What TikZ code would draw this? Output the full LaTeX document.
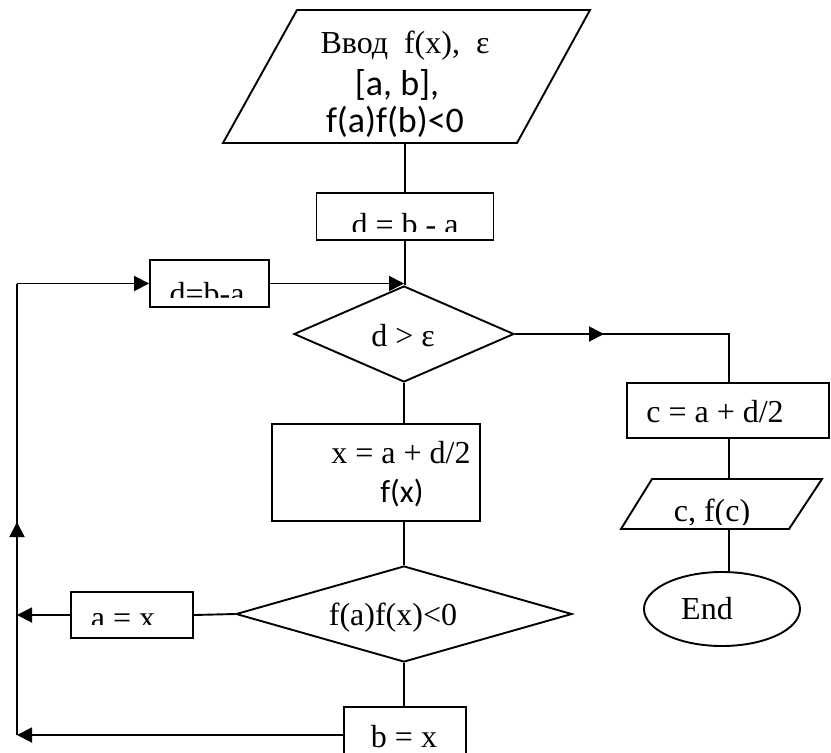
\documentclass[tikz,border=0pt]{standalone}
\usepackage{fontspec}
\setmainfont{Liberation Serif}
\newfontfamily\calfont{Carlito}
\usetikzlibrary{arrows.meta,shapes.geometric}
\begin{document}
\begin{tikzpicture}[x=1pt,y=-1pt,line width=1.9pt,
  blk/.style={draw,rectangle,inner sep=0pt},
  dia/.style={draw,diamond,inner sep=0pt},
  txt/.style={inner sep=0pt,anchor=base,font=\fontsize{32}{38}\selectfont},
  ctxt/.style={inner sep=0pt,anchor=base,font=\fontsize{36}{40}\selectfont\calfont},
  arr/.style={-{Triangle[length=15pt,width=15pt]}}]
\useasboundingbox (0,0) rectangle (831,753);
% shapes
\coordinate (inNW) at (297,10); \coordinate (inNE) at (590,10);
\coordinate (inSE) at (517,143); \coordinate (inSW) at (223,143);
\coordinate (inS) at (405,143);
\draw[line join=miter] (inNW) -- (inNE) -- (inSE) -- (inSW) -- cycle;
\node[blk,minimum width=177pt,minimum height=47pt] (b1) at (405,216.5) {};
\node[blk,minimum width=119pt,minimum height=47pt] (b2) at (209.5,283.5) {};
\node[dia,minimum width=220pt,minimum height=96pt] (d1) at (404,334) {};
\node[blk,minimum width=208pt,minimum height=97pt] (b3) at (376,472.5) {};
\node[blk,minimum width=202pt,minimum height=55pt] (b4) at (728,410.5) {};
\coordinate (oNW) at (652,479); \coordinate (oNE) at (822,479);
\coordinate (oSE) at (789,529); \coordinate (oSW) at (621,529);
\coordinate (oN) at (729,479); \coordinate (oS) at (729,529);
\draw (oNW) -- (oNE) -- (oSE) -- (oSW) -- cycle;
\node[draw,ellipse,inner sep=0pt,minimum width=156pt,minimum height=74pt] (end) at (722,609) {};
\node[dia,minimum width=336pt,minimum height=96pt] (d2) at (404,614) {};
\node[blk,minimum width=122pt,minimum height=46pt] (b5) at (132,615) {};
\node[blk,minimum width=122pt,minimum height=56pt] (b6) at (405,735) {};
\coordinate (L1) at (17,283.5);
\coordinate (L2) at (17,735);
\coordinate (Lm) at (17,522);
\coordinate (R1) at (604,334);
% connectors
\draw (inS) -- (inS |- b1.north);
\draw (b1.south) -- (b1.south |- d1.north);
\draw[arr] (L1) -- (b2.west);
\draw[arr] (b2.east) -- (b2.east -| d1.north);
\draw (L2) -- (L1);
\draw[arr] (L2) -- (Lm);
\draw (d1.east) -| (oN |- b4.north);
\draw[arr] (d1.east) -- (R1);
\draw (oN |- b4.south) -- (oN);
\draw (oS) -- (oS |- end.north);
\draw (d1.south) -- (d1.south |- b3.north);
\draw (d1.south |- b3.south) -- (d2.north);
\draw (d2.west) -- (b5.east);
\draw[arr] (b5.west) -- (b5.west -| L1);
\draw (d2.south) -- (d2.south |- b6.north);
\draw[arr] (b6.west) -- (L2);
% texts
\node[txt] (t1) at (405,53) {Ввод\ \ f(x),\ \ ε};
\node[ctxt] (t2) at (397,95) {[a, b],};
\node[ctxt] (t3) at (395,132) {f(a)f(b)<0};
\begin{scope}
\clip (b1.north west) rectangle (494,231);
\node[txt] (t4) at (405,235) {d = b - a};
\end{scope}
\begin{scope}
\clip (b2.north west) rectangle (269,297);
\node[txt] (t5) at (207,304) {d=b-a};
\end{scope}
\node[txt] (t6) at (403,346) {d > ε};
\node[txt] (t7) at (401,463) {x = a + d/2};
\node[txt,font=\fontsize{32}{38}\selectfont\calfont] (t8) at (402,502) {f(x)};
\node[txt] (t9) at (715,422) {c = a + d/2};
\begin{scope}
\clip (600,479) rectangle (831,524);
\node[txt] (t10) at (712,521) {c, f(c)};
\end{scope}
\node[txt] (t11) at (707,619) {End};
\node[txt] (t12) at (393,625) {f(a)f(x)<0};
\begin{scope}
\clip (b5.north west) rectangle (193,624);
\node[txt] (t13) at (123,628) {a = x};
\end{scope}
\begin{scope}
\clip (b6.north west) rectangle (466,753);
\node[txt] (t14) at (404,747) {b = x};
\end{scope}
\end{tikzpicture}
\end{document}
